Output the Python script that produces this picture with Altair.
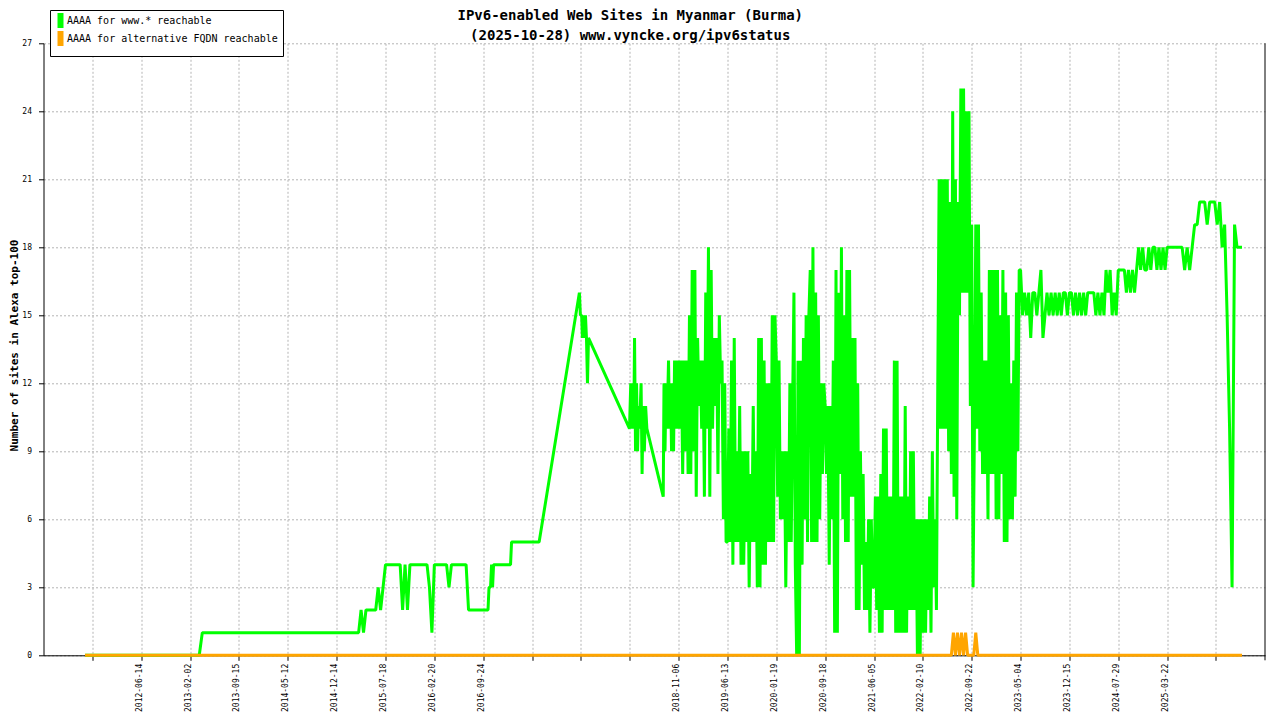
import json
import numpy as np
import pandas as pd
import altair as alt

# Texts
title_lines = ['IPv6-enabled Web Sites in Myanmar (Burma)',
               '(2025-10-28) www.vyncke.org/ipv6status']
y_title = 'Number of sites in Alexa top-100'
series_www = 'AAAA for www.* reachable'
series_alt = 'AAAA for alternative FQDN reachable'
FONT = 'DejaVu Sans Mono'

# x axis: the original is a sample-index axis, one tick every N samples.
# tick_dates[i] sits on tick i; tick_labels holds what is printed under it.
tick_dates = ['2011-10-25', '2012-06-14', '2013-02-02', '2013-09-15', '2014-05-12',
              '2014-12-14', '2015-07-18', '2016-02-20', '2016-09-24', '2017-04-05',
              '2017-10-15', '2018-04-26', '2018-11-06', '2019-06-13', '2020-01-19',
              '2020-09-18', '2021-06-05', '2022-02-10', '2022-09-22', '2023-05-04',
              '2023-12-15', '2024-07-29', '2025-03-22', '2025-08-12']
tick_labels = ['', '2012-06-14', '2013-02-02', '2013-09-15', '2014-05-12',
               '2014-12-14', '2015-07-18', '2016-02-20', '2016-09-24', '', '', '',
               '2018-11-06', '2019-06-13', '2020-01-19', '2020-09-18', '2021-06-05',
               '2022-02-10', '2022-09-22', '2023-05-04', '2023-12-15', '2024-07-29',
               '2025-03-22', '']
# extra anchors outside the ticks (axis start, last sample)
edge_anchors = [('2011-03-06', -1.001), ('2025-10-28', 23.533)]
x_domain = [-1.001, 24.004]

# www.* series, evenly spaced samples between two dates
g_2011 = [0, 0]
g_2012 = [0, 0]
g_2013a = [0, 0, 0, 0, 1, 1, 1, 1, 1, 1, 1, 1, 1, 1, 1, 1]
g_2013b = [1, 1]
g_2014a = [1, 1]
g_2014b = [1, 1, 1, 1, 1, 1, 1, 1, 1, 1, 2, 1, 2, 2, 2, 2, 2, 3, 2, 3]
g_2015 = [4, 4, 4, 4, 4, 4, 4, 2, 4, 2, 4, 4, 4, 4, 4, 4, 4, 4, 3, 1]
g_2016 = [4, 4, 4, 4, 4, 4, 3, 4, 4, 4, 4, 4, 4, 4, 2, 2, 2, 2, 2, 2]

# sparse period: days after 2016-09-24
gap_days = [0, 19, 23, 29, 33, 37, 41, 108, 112, 221, 380, 384, 389, 392, 396, 400,
            404, 408, 412, 416, 578, 583, 587, 591, 595, 598, 602, 606, 610, 614,
            618, 624, 628, 632, 637, 642, 647, 712, 715, 719, 723, 727, 733, 737,
            741, 745, 749, 753, 757, 761, 765, 769]
gap_vals = [2, 2, 3, 3, 4, 3, 4, 4, 5, 5, 16, 15, 15, 14, 15, 14, 15, 14, 12, 14,
            10, 12, 10, 12, 10, 14, 9, 12, 9, 11, 10, 12, 8, 11, 9, 11, 10, 7, 12,
            9, 12, 10, 13, 10, 12, 9, 12, 9, 13, 10, 13, 10]

g_2018 = [13, 10, 13, 8, 13, 9, 13, 8, 15, 8, 17, 9, 17, 7, 14, 11, 13, 10,
          13, 7, 16, 10, 18, 7, 17, 10, 14, 11, 14, 8, 15, 12, 13, 6, 12, 5]
g_2019 = [5, 10, 5, 13, 4, 14, 5, 9, 5, 11, 4, 9, 4, 9, 5, 9, 3, 8,
          5, 11, 5, 9, 3, 14, 3, 14, 4, 13, 4, 12, 5, 12, 5, 15, 5, 15]
g_2020a = [13, 7, 13, 6, 9, 6, 9, 3, 9, 5, 12, 5, 11, 16, 4, 0, 13, 0,
           13, 4, 14, 6, 15, 5, 15, 17, 5, 18, 5, 16, 5, 15, 6, 12, 8, 12]
g_2020b = [11, 8, 11, 4, 11, 6, 13, 1, 17, 1, 16, 8, 18, 6, 15, 5, 17, 5,
           17, 7, 14, 7, 14, 2, 12, 2, 9, 4, 8, 2, 5, 2, 6, 1, 6, 3]
g_2021 = [3, 7, 2, 7, 1, 8, 1, 10, 2, 10, 2, 7, 2, 7, 2, 13, 1, 13,
          1, 7, 1, 7, 1, 11, 1, 7, 2, 9, 2, 9, 2, 6, 0, 6, 0, 6]
g_2022a = [1, 6, 1, 6, 2, 7, 1, 9, 3, 6, 2, 12, 21, 10, 21, 10, 21, 10,
           21, 9, 20, 8, 24, 7, 21, 6, 20, 15, 25, 16, 25, 16, 24, 16, 24, 11]
g_2022b = [19, 3, 10, 19, 10, 19, 9, 16, 8, 13, 8, 13, 6, 17, 8, 17, 8, 17,
           6, 17, 6, 15, 8, 17, 5, 16, 5, 15, 6, 12, 6, 13, 7, 16, 9, 17]
g_2023a = [17, 15, 16, 15, 16, 14, 16, 16, 15, 16, 17, 14, 15, 16, 15, 16, 15, 16,
           15, 16, 15, 16, 16, 15]
g_2023b = [16, 16, 15, 16, 15, 16, 15, 16, 15, 16, 16, 16, 16, 15, 16, 15, 16, 15,
           17, 16, 17, 15, 16, 15]
g_2024 = [17, 17, 17, 17, 16, 17, 16, 17, 16, 17, 18, 17, 18, 17, 17, 18, 17, 18,
          18, 17, 18, 17, 18, 17]
g_2025 = [18, 18, 18, 18, 18, 18, 18, 17, 18, 17, 18, 19, 19, 20, 20, 20, 19, 20, 20, 20,
          19, 20, 18, 19, 15, 10, 3, 19, 18, 18]
g_last = ('2025-10-28', 18)

# alternative FQDN series
o_before = [0, 0]
o_2022a = [0, 0, 0, 0, 0, 0, 0, 0, 0, 0, 0, 0, 0, 0, 0, 1, 0, 1, 0, 1, 0, 1, 0, 0]
o_2022b = [0, 0, 1, 0, 0, 0, 0, 0, 0, 0, 0, 0, 0, 0, 0, 0, 0, 0, 0, 0, 0, 0, 0, 0]
o_after = [0, 0]
o_last = ('2025-10-28', 0)


def spread(runs):
    rows = []
    for start, end, vals in runs:
        dates = pd.date_range(start, end, periods=len(vals) + 1)[:-1]
        rows += list(zip(dates, vals))
    return rows


green_rows = spread([
    ('2011-09-20', '2012-06-14', g_2011),
    ('2012-06-14', '2013-02-02', g_2012),
    ('2013-02-02', '2013-09-15', g_2013a),
    ('2013-09-15', '2014-05-12', g_2013b),
    ('2014-05-12', '2014-12-14', g_2014a),
    ('2014-12-14', '2015-07-18', g_2014b),
    ('2015-07-18', '2016-02-20', g_2015),
    ('2016-02-20', '2016-09-24', g_2016),
])
green_rows += [(pd.Timestamp('2016-09-24') + pd.Timedelta(days=d), v)
               for d, v in zip(gap_days, gap_vals)]
green_rows += spread([
    ('2018-11-06', '2019-06-13', g_2018),
    ('2019-06-13', '2020-01-19', g_2019),
    ('2020-01-19', '2020-09-18', g_2020a),
    ('2020-09-18', '2021-06-05', g_2020b),
    ('2021-06-05', '2022-02-10', g_2021),
    ('2022-02-10', '2022-09-22', g_2022a),
    ('2022-09-22', '2023-05-04', g_2022b),
    ('2023-05-04', '2023-12-15', g_2023a),
    ('2023-12-15', '2024-07-29', g_2023b),
    ('2024-07-29', '2025-03-22', g_2024),
    ('2025-03-22', '2025-10-28', g_2025),
])
green_rows.append((pd.Timestamp(g_last[0]), g_last[1]))

orange_rows = spread([
    ('2011-09-20', '2022-02-10', o_before),
    ('2022-02-10', '2022-09-22', o_2022a),
    ('2022-09-22', '2023-05-04', o_2022b),
    ('2023-05-04', '2025-10-28', o_after),
])
orange_rows.append((pd.Timestamp(o_last[0]), o_last[1]))

# date -> position on the sample-index axis
anchors = sorted([(pd.Timestamp(d), float(i)) for i, d in enumerate(tick_dates)] +
                 [(pd.Timestamp(d), i) for d, i in edge_anchors])
anchor_t = np.array([a[0].value for a in anchors], dtype=float)
anchor_i = np.array([a[1] for a in anchors])


def frame(rows, name):
    df = pd.DataFrame(rows, columns=['date', 'sites'])
    df['pos'] = np.interp(df['date'].astype('int64').astype(float), anchor_t, anchor_i)
    df['date'] = df['date'].dt.strftime('%Y-%m-%d')
    df['series'] = name
    return df


green_df = frame(green_rows, series_www)
orange_df = frame(orange_rows, series_alt)

x = alt.X('pos:Q', title=None,
          scale=alt.Scale(domain=x_domain, nice=False, zero=False),
          axis=alt.Axis(values=list(range(len(tick_dates))),
                        labelExpr=f"{json.dumps(tick_labels)}[datum.value]",
                        labelAngle=270, labelAlign='right', labelBaseline='alphabetic',
                        labelPadding=3, labelOverlap=False, labelFlush=False))
y = alt.Y('sites:Q', scale=alt.Scale(domain=[0, 27], nice=False),
          axis=alt.Axis(values=list(range(0, 28, 3)), title=y_title,
                        titleFont=FONT, titleFontSize=11, titleFontWeight='bold',
                        titleAngle=270, titleX=-29.5, titleY=301.7,
                        titleAlign='center', titleBaseline='middle', labelPadding=7))
color = alt.Color('series:N',
                  scale=alt.Scale(domain=[series_www, series_alt], range=['#00ff00', '#ffa500']),
                  legend=alt.Legend(title=None, orient='none', legendX=6.5, legendY=-33.3,
                                    fillColor='white', strokeColor='black', padding=5,
                                    symbolType='M-0.375,-1.5H0.375V1.5H-0.375Z', symbolSize=64,
                                    symbolStrokeWidth=3, labelFont=FONT, labelFontSize=10,
                                    labelColor='black', labelOffset=1, rowPadding=-8,
                                    labelLimit=0))

green = alt.Chart(green_df).mark_line(strokeWidth=3, strokeJoin='bevel').encode(
    x=x, y=y, color=color)
orange = alt.Chart(orange_df).mark_line(strokeWidth=3, strokeJoin='bevel').encode(
    x=x, y=y, color=color)
edge = alt.Chart(pd.DataFrame({'a': [0]})).mark_rule(color='black', strokeWidth=1).encode(
    x=alt.value(1221.5), y=alt.value(0), y2=alt.value(617))

chart = alt.layer(green, orange, edge).properties(
    width=1221.5,
    height=612,
    title=alt.TitleParams(text=title_lines, font=FONT, fontSize=14, fontWeight='bold',
                          color='black', anchor='middle', frame='group', dx=-24,
                          offset=-33.3, lineHeight=20),
    padding={'left': 35.5, 'top': 35.3, 'right': 7, 'bottom': 56.7},
    autosize=alt.AutoSizeParams(type='none'),
    background='white',
).configure_view(
    stroke=None
).configure_axis(
    labelFont=FONT,
    labelFontSize=8,
    labelColor='black',
    tickColor='black',
    tickSize=5,
    domainColor='black',
    gridColor='#b4b4b4',
    gridDash=[2, 2],
    gridWidth=1,
)

chart.save('out.html', embed_options={'renderer': 'svg', 'actions': False})
